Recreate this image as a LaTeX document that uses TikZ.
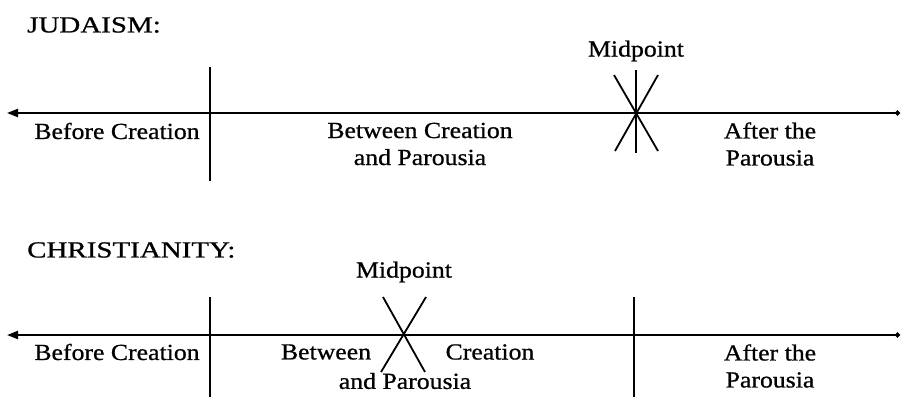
\documentclass[tikz,border=0pt]{standalone}
\usepackage{fontspec}
\setmainfont{Liberation Serif}[FakeStretch=1.12,FakeBold=0.8]
\newfontfamily\headfont{Liberation Serif}[FakeStretch=1.26,FakeBold=0.8]
\usetikzlibrary{arrows.meta}
\begin{document}
\begin{tikzpicture}[x=1pt,y=-1pt,
  lbl/.style={inner sep=0pt,align=center,font=\fontsize{23}{27}\selectfont},
  head/.style={inner sep=0pt,anchor=west,font=\headfont\fontsize{23}{27}\selectfont},
  axis/.style={line width=2pt,{Triangle[length=11pt,width=8pt]}-{Circle[length=5pt]}},
  tick/.style={line width=1.8pt},
  star/.style={line width=1.8pt}]
\useasboundingbox (0,0) rectangle (902,397);
% ---------- Judaism ----------
\node[head] (jh) at (27,25) {JUDAISM:};
\coordinate (jL) at (7,113);
\coordinate (jR) at (900,113);
\draw[axis] (jL) -- (jR);
\coordinate (jt1) at (210,67);
\coordinate (jt2) at (210,181);
\draw[tick] (jt1) -- (jt2);
\coordinate (jm) at (636,113);
\coordinate (jv1) at (636,70);
\coordinate (jv2) at (636,153);
\coordinate (jd1) at (614,75);
\coordinate (jd2) at (658,151);
\coordinate (jd3) at (658,75);
\coordinate (jd4) at (615,151);
\draw[star] (jv1) -- (jv2);
\draw[star] (jd1) -- (jd2);
\draw[star] (jd3) -- (jd4);
\node[lbl] (jmid) at (636,51) {Midpoint};
\node[lbl] (jbc) at (117,131) {Before Creation};
\node[lbl] (jbt) at (420,144) {Between Creation\\and Parousia};
\node[lbl] (jap) at (770,144) {After the\\Parousia};
% ---------- Christianity ----------
\node[head] (ch) at (27,250) {CHRISTIANITY:};
\coordinate (cL) at (7,335);
\coordinate (cR) at (900,335);
\draw[axis] (cL) -- (cR);
\coordinate (ct1) at (210,297);
\coordinate (ct2) at (210,397);
\draw[tick] (ct1) -- (ct2);
\coordinate (ct3) at (634,297);
\coordinate (ct4) at (634,397);
\draw[tick] (ct3) -- (ct4);
\coordinate (cd1) at (383,297);
\coordinate (cd2) at (425,372);
\coordinate (cd3) at (426,297);
\coordinate (cd4) at (381,372);
\draw[star] (cd1) -- (cd2);
\draw[star] (cd3) -- (cd4);
\node[lbl] (cmid) at (404,272) {Midpoint};
\node[lbl] (cbc) at (117,352) {Before Creation};
\node[lbl] (cbw) at (326,352) {Between};
\node[lbl] (ccr) at (490,352) {Creation};
\node[lbl] (cap) at (405,381) {and Parousia};
\node[lbl] (caf) at (770,366) {After the\\Parousia};
\end{tikzpicture}
\end{document}
